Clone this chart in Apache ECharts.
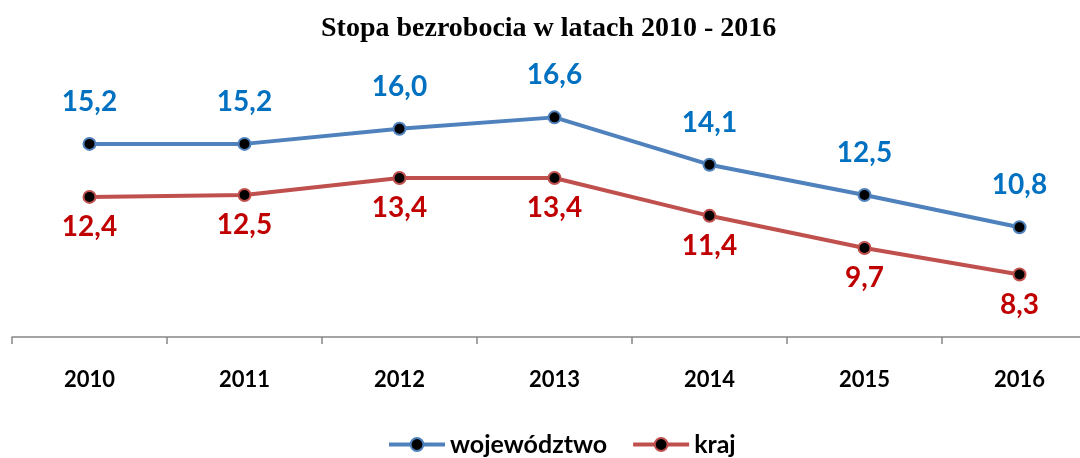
<!DOCTYPE html>
<html>
<head>
<meta charset="utf-8">
<script src="https://cdn.jsdelivr.net/npm/echarts@6/dist/echarts.min.js"></script>
<style>
  html, body { margin: 0; padding: 0; background: #fff; }
  #chart { width: 1080px; height: 458px; }
</style>
</head>
<body>
<div id="chart"></div>
<script>
var years = ['2010', '2011', '2012', '2013', '2014', '2015', '2016'];
var wojewodztwo = [15.2, 15.2, 16.0, 16.6, 14.1, 12.5, 10.8];
var kraj = [12.4, 12.5, 13.4, 13.4, 11.4, 9.7, 8.3];

function fmt(p) {
  return p.value.toFixed(1).replace('.', ',');
}

var chart = echarts.init(document.getElementById('chart'));

var option = {
  animation: false,
  title: {
    text: 'Stopa bezrobocia w latach 2010 - 2016',
    left: 316,
    top: 10,
    textStyle: {
      fontFamily: 'Liberation Serif',
      fontWeight: 'bold',
      fontSize: 28,
      color: '#000'
    }
  },
  legend: {
    bottom: -4,
    left: 382,
    itemWidth: 56,
    itemHeight: 16,
    itemGap: 24,
    lineStyle: { width: 4 },
    textStyle: {
      fontFamily: 'Lato',
      fontWeight: 'bold',
      fontSize: 25,
      color: '#000'
    },
    data: ['województwo', 'kraj']
  },
  grid: {
    top: 53,
    left: 12,
    width: 1085,
    height: 284,
    outerBoundsMode: 'none'
  },
  xAxis: {
    type: 'category',
    data: years,
    boundaryGap: true,
    axisLine: { lineStyle: { color: '#868686', width: 1.5 } },
    axisTick: { show: true, length: 7, lineStyle: { color: '#868686', width: 1.5 } },
    axisLabel: {
      margin: 32,
      fontFamily: 'Lato',
      fontWeight: 'bold',
      fontSize: 22,
      color: '#000'
    }
  },
  yAxis: {
    type: 'value',
    min: 5,
    max: 20,
    show: false,
    splitLine: { show: false }
  },
  series: [
    {
      name: 'województwo',
      type: 'line',
      data: wojewodztwo,
      symbol: 'circle',
      symbolSize: 12,
      lineStyle: { color: '#4f81bd', width: 4 },
      itemStyle: { color: '#000', borderColor: '#4f81bd', borderWidth: 2 },
      label: {
        show: true,
        position: 'top',
        distance: 21,
        formatter: fmt,
        fontFamily: 'Lato',
        fontWeight: 'bold',
        fontSize: 28,
        color: '#0070c0'
      }
    },
    {
      name: 'kraj',
      type: 'line',
      data: kraj,
      symbol: 'circle',
      symbolSize: 12,
      lineStyle: { color: '#c0504d', width: 4 },
      itemStyle: { color: '#000', borderColor: '#c0504d', borderWidth: 2 },
      label: {
        show: true,
        position: 'bottom',
        distance: 9,
        formatter: fmt,
        fontFamily: 'Lato',
        fontWeight: 'bold',
        fontSize: 28,
        color: '#c00000'
      }
    }
  ]
};

chart.setOption(option);
window.addEventListener('resize', function () {
  chart.resize();
});
</script>
</body>
</html>
